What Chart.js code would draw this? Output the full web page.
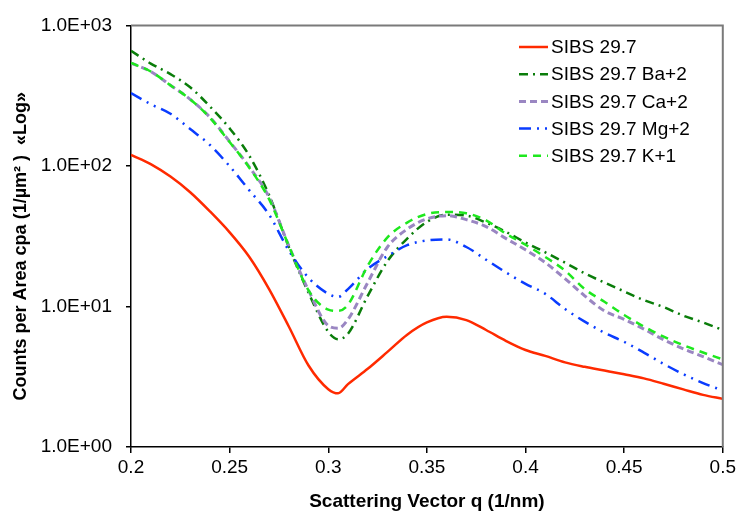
<!DOCTYPE html>
<html>
<head>
<meta charset="utf-8">
<script src="https://cdn.jsdelivr.net/npm/chart.js@4.4.0/dist/chart.umd.min.js"></script>
<style>
  body { margin: 0; background: #fff; }
</style>
</head>
<body>
<canvas id="chartSaxs" width="739" height="521"></canvas>
<script>
// scattering vector q (1/nm)
var qValues = [0.20, 0.21, 0.22, 0.23, 0.24, 0.25, 0.26, 0.27, 0.28, 0.29, 0.30, 0.305,
  0.31, 0.32, 0.33, 0.34, 0.35, 0.36, 0.37, 0.38, 0.39, 0.40, 0.41, 0.42, 0.43, 0.44,
  0.45, 0.46, 0.47, 0.48, 0.49, 0.50];

// counts per area for each sample
var sibs = [120, 103, 84, 65, 47.5, 33.7, 22.5, 13.3, 7.2, 3.8, 2.58, 2.41,
  2.8, 3.6, 4.75, 6.3, 7.7, 8.45, 8.0, 6.8, 5.7, 4.9, 4.45, 4.0, 3.72, 3.5,
  3.29, 3.08, 2.82, 2.57, 2.35, 2.2];
var sibsBa = [660, 535, 450, 363, 265, 185, 118, 62, 26.5, 12.5, 6.6, 5.85,
  6.4, 11.9, 21, 30.4, 40, 45, 44.3, 39.5, 34, 28.5, 24.3, 20.5, 17.2, 14.8,
  12.8, 11.1, 9.9, 8.6, 7.7, 6.8];
var sibsCa = [540, 470, 375, 298, 222, 149, 98, 60, 27, 13, 7.3, 7.0,
  8.1, 14.8, 26.5, 35.5, 42, 44.3, 41.5, 37, 30.5, 25.3, 20.5, 15.8, 11.9, 9.3,
  8.1, 6.9, 5.8, 5.0, 4.4, 3.85];
var sibsMg = [330, 275, 235, 183, 141, 99.5, 67, 45, 25, 16, 12.3, 11.7,
  13.3, 18.5, 22.8, 27.3, 29.5, 30, 26.5, 21.5, 17.5, 14.5, 12.3, 9.6, 7.8, 6.5,
  5.6, 4.7, 3.9, 3.3, 2.85, 2.52];
var sibsK = [540, 470, 375, 298, 220, 148, 97, 58, 27, 13, 9.5, 9.3,
  10.3, 19.5, 31, 39.5, 45.5, 47, 46, 41, 33, 27.5, 22.5, 18, 13.3, 10.8,
  8.7, 7.2, 6.1, 5.3, 4.7, 4.2];

var xTicks = [0.2, 0.25, 0.3, 0.35, 0.4, 0.45, 0.5];
var xTickLabels = ['0.2', '0.25', '0.3', '0.35', '0.4', '0.45', '0.5'];
var yTicks = [1, 10, 100, 1000];
var yTickLabels = ['1.0E+00', '1.0E+01', '1.0E+02', '1.0E+03'];

function pts(arr) {
  return arr.map(function (v, i) { return { x: qValues[i], y: v }; });
}

var FONT = '"Liberation Sans", Arial, sans-serif';
Chart.defaults.font.family = FONT;
Chart.defaults.font.size = 19;
Chart.defaults.color = '#000';

// gray frame on top and right side
var framePlugin = {
  id: 'frame',
  afterDraw: function (chart) {
    var a = chart.chartArea, ctx = chart.ctx;
    ctx.save();
    ctx.strokeStyle = '#7a7a7a';
    ctx.lineWidth = 2;
    ctx.beginPath();
    ctx.moveTo(a.left, a.top);
    ctx.lineTo(a.right, a.top);
    ctx.lineTo(a.right, a.bottom);
    ctx.stroke();
    ctx.restore();
  }
};

// legend inside the plot, top right
var legendPlugin = {
  id: 'insideLegend',
  afterDraw: function (chart) {
    var ctx = chart.ctx;
    var x0 = 519, x1 = 548, tx = 551, y = 47, step = 27.2;
    ctx.save();
    ctx.font = '19px ' + FONT;
    ctx.textBaseline = 'middle';
    ctx.textAlign = 'left';
    ctx.fillStyle = '#000';
    chart.data.datasets.forEach(function (ds) {
      ctx.beginPath();
      ctx.strokeStyle = ds.borderColor;
      ctx.lineWidth = ds.borderWidth;
      ctx.setLineDash(ds.borderDash || []);
      ctx.moveTo(x0, y);
      ctx.lineTo(x1, y);
      ctx.stroke();
      ctx.setLineDash([]);
      ctx.fillText(ds.label, tx, y + 1);
      y += step;
    });
    ctx.restore();
  }
};

var ctx1 = document.getElementById('chartSaxs').getContext('2d');
var chart1 = new Chart(ctx1, {
  type: 'line',
  data: {
    datasets: [{
        label: 'SIBS 29.7',
        data: pts(sibs),
        borderColor: '#ff2a00',
        borderWidth: 2.5,
        order: 5
    }, {
        label: 'SIBS 29.7 Ba+2',
        data: pts(sibsBa),
        borderColor: '#0a7d0a',
        borderWidth: 2.5,
        borderDash: [9, 5, 2, 5],
        order: 4
    }, {
        label: 'SIBS 29.7 Ca+2',
        data: pts(sibsCa),
        borderColor: '#9a86c2',
        borderWidth: 3,
        borderDash: [7, 4],
        order: 3
    }, {
        label: 'SIBS 29.7 Mg+2',
        data: pts(sibsMg),
        borderColor: '#0a3cff',
        borderWidth: 2.5,
        borderDash: [12, 6, 2, 6, 2, 6],
        order: 2
    }, {
        label: 'SIBS 29.7 K+1',
        data: pts(sibsK),
        borderColor: '#1ee81e',
        borderWidth: 2.5,
        borderDash: [8, 6],
        order: 1
    }]
  },
  options: {
    responsive: false,
    devicePixelRatio: 1,
    animation: false,
    layout: { padding: { top: 21, right: 15, left: 0, bottom: 0 } },
    elements: {
      point: { radius: 0 },
      line: { fill: false, cubicInterpolationMode: 'monotone' }
    },
    plugins: {
      legend: { display: false },
      tooltip: { enabled: false }
    },
    scales: {
      x: {
        type: 'linear',
        min: 0.2,
        max: 0.5,
        afterBuildTicks: function (s) { s.ticks = xTicks.map(function (v) { return { value: v }; }); },
        afterFit: function (s) { s.height = 74; },
        border: { color: '#000', width: 1.5 },
        grid: { drawOnChartArea: false, tickLength: 6, color: '#000', lineWidth: 1.5 },
        ticks: {
          padding: 3,
          maxRotation: 0,
          autoSkip: false,
          callback: function (v, i) { return xTickLabels[i]; }
        },
        title: {
          display: true,
          text: 'Scattering Vector q (1/nm)',
          font: { size: 19, weight: 'bold' },
          padding: { top: 0, bottom: 8 }
        }
      },
      y: {
        type: 'logarithmic',
        min: 1,
        max: 1000,
        afterBuildTicks: function (s) { s.ticks = yTicks.map(function (v) { return { value: v }; }); },
        afterFit: function (s) { s.width = 131; },
        border: { color: '#000', width: 1.5 },
        grid: { drawOnChartArea: false, tickLength: 5, color: '#000', lineWidth: 1.5 },
        ticks: {
          padding: 14,
          callback: function (v) { return yTickLabels[yTicks.indexOf(v)]; }
        },
        title: {
          display: true,
          // trailing blanks push the centred title a little lower, as in the original
          text: 'Counts per Area cpa (1/µm² )  «Log»    ',
          font: { size: 18, weight: 'bold' },
          padding: { top: 10, bottom: 0 }
        }
      }
    }
  },
  plugins: [framePlugin, legendPlugin]
});
</script>
</body>
</html>
